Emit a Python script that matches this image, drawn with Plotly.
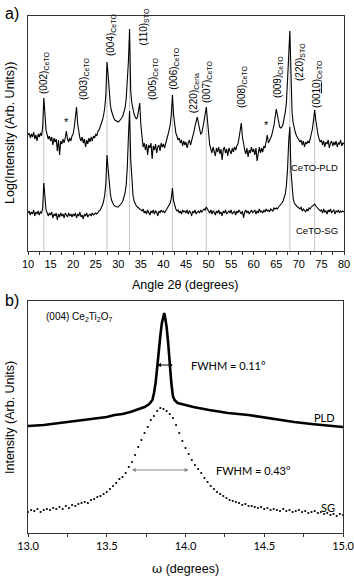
import numpy as np
import plotly.graph_objects as go

# ---- panel a: theta-2theta scans, heights in arbitrary log units, one value per 0.25 deg (10..80)
two_theta = np.linspace(10, 80, 281)

pld_scan = [
    116, 118, 113, 117, 114, 119, 112, 116, 110, 117, 114, 118, 115, 124, 153, 134, 121, 116, 112, 115,
    110, 114, 106, 113, 109, 112, 100, 111, 96, 110, 107, 112, 108, 113, 120, 112, 109, 113, 110, 115,
    117, 124, 136, 144, 127, 118, 113, 110, 114, 108, 112, 104, 111, 107, 113, 109, 114, 110, 115, 113,
    117, 115, 120, 121, 124, 127, 131, 136, 143, 156, 189, 176, 158, 146, 140, 136, 133, 131, 130, 129,
    129, 130, 131, 133, 135, 139, 143, 152, 168, 190, 222, 160, 148, 141, 137, 134, 132, 134, 140, 148,
    126, 112, 104, 108, 101, 107, 96, 106, 103, 108, 92, 105, 101, 107, 98, 104, 106, 100, 108, 104,
    107, 103, 109, 112, 116, 120, 126, 137, 156, 136, 123, 118, 115, 111, 113, 108, 111, 105, 110, 106,
    109, 103, 108, 111, 106, 110, 114, 119, 125, 131, 134, 128, 121, 117, 118, 123, 130, 137, 144, 131,
    114, 106, 102, 98, 104, 100, 95, 103, 99, 104, 97, 102, 91, 101, 104, 98, 102, 95, 103, 100,
    97, 103, 99, 104, 101, 105, 107, 113, 122, 128, 114, 106, 101, 97, 103, 94, 101, 98, 104, 99,
    102, 96, 103, 90, 100, 104, 98, 103, 99, 105, 103, 110, 116, 108, 110, 113, 116, 120, 126, 134,
    142, 136, 128, 124, 123, 124, 127, 132, 139, 149, 168, 195, 220, 160, 138, 128, 122, 118, 115, 113,
    112, 109, 111, 106, 110, 104, 109, 107, 110, 108, 112, 116, 122, 131, 141, 131, 121, 116, 112, 109,
    111, 106, 110, 104, 109, 107, 111, 103, 108, 110, 105, 109, 106, 110, 104, 108, 107, 111, 105, 108, 107,
]

sg_scan = [
    38, 40, 36, 39, 37, 41, 35, 39, 37, 40, 36, 39, 38, 43, 68, 50, 41, 38, 35, 38,
    36, 39, 33, 37, 35, 38, 31, 37, 34, 38, 35, 37, 33, 38, 36, 34, 38, 35, 37, 34,
    37, 35, 38, 33, 37, 35, 39, 34, 36, 32, 37, 35, 38, 34, 36, 37, 35, 38, 36, 37,
    38, 37, 39, 40, 41, 43, 46, 50, 56, 68, 96, 82, 66, 57, 51, 48, 46, 45, 44, 44,
    44, 45, 46, 48, 50, 53, 58, 66, 84, 115, 140, 92, 66, 56, 50, 47, 45, 44, 43, 42,
    41, 40, 42, 38, 40, 37, 41, 39, 36, 40, 38, 41, 37, 40, 39, 35, 40, 38, 41, 39,
    40, 38, 41, 42, 44, 46, 48, 53, 63, 50, 44, 42, 40, 41, 38, 40, 37, 41, 39, 40,
    38, 41, 37, 40, 39, 35, 40, 38, 41, 37, 39, 40, 38, 41, 39, 40, 42, 41, 44, 42,
    40, 38, 41, 37, 40, 39, 36, 40, 38, 41, 37, 39, 35, 40, 38, 41, 37, 39, 40, 38,
    41, 37, 39, 40, 36, 40, 38, 41, 39, 37, 40, 33, 39, 41, 38, 40, 37, 39, 41, 38,
    39, 41, 37, 40, 38, 42, 39, 40, 38, 41, 39, 42, 40, 41, 39, 42, 41, 40, 43, 42,
    43, 42, 44, 45, 46, 48, 50, 53, 57, 66, 82, 110, 124, 80, 60, 52, 48, 46, 45, 44,
    43, 42, 44, 40, 42, 41, 39, 42, 40, 43, 42, 44, 45, 46, 47, 45, 44, 43, 42, 40,
    41, 38, 42, 39, 40, 37, 41, 39, 42, 38, 40, 41, 37, 40, 39, 41, 38, 40, 39, 40, 39,
]

# reflections marked with a grey guide line (2theta)
guide_peaks = [13.5, 27.5, 32.5, 42.0, 49.5, 68.0, 73.5]

refl_labels = [
    "(002)<sub>CeTO</sub>", "(003)<sub>CeTO</sub>", "(004)<sub>CeTO</sub>", "(110)<sub>STO</sub>",
    "(005)<sub>CeTO</sub>", "(006)<sub>CeTO</sub>", "(220)<sub>Ceria</sub>", "(007)<sub>CeTO</sub>",
    "(008)<sub>CeTO</sub>", "(009)<sub>CeTO</sub>", "(220)<sub>STO</sub>", "(00<u>10</u>)<sub>CeTO</sub>",
]
refl_pos = [(13.54, 155), (22.4, 149), (28.4, 193), (35.7, 203), (37.7, 149), (42.3, 159),
            (46.8, 136), (49.65, 146), (57.4, 141), (65.4, 151), (70.25, 168), (74.0, 141)]
star_pos = [(18.5, 121), (62.9, 118)]

# ---- panel b: omega rocking curves of the (004) reflection
pld_omega = [13.00, 13.10, 13.20, 13.30, 13.40, 13.50, 13.55, 13.60, 13.65, 13.70, 13.74, 13.77,
             13.79, 13.80, 13.81, 13.82, 13.83, 13.84, 13.85, 13.86, 13.865, 13.87, 13.88, 13.89,
             13.90, 13.91, 13.92, 13.93, 13.95, 14.00, 14.05, 14.15, 14.27, 14.40, 14.48, 14.60,
             14.69, 14.80, 14.90, 15.00]
pld_rc = [107, 108, 110, 112, 114, 116, 118, 119, 121, 124, 126, 129,
          133, 140, 150, 165, 183, 197, 210, 219, 220, 216, 206, 190,
          166, 150, 137, 133, 130, 128, 126, 123, 120, 118, 116, 113,
          111, 109, 107.5, 106]

sg_rc = [
    21, 23, 22, 24, 21, 23, 24, 23, 25, 24, 26, 24, 27, 25, 28, 27, 29, 30, 31, 30,
    33, 34, 36, 37, 39, 41, 44, 47, 50, 54, 56, 60, 66, 71, 78, 86, 93, 100, 106, 113,
    117, 122, 125, 124, 122, 119, 115, 108, 100, 92, 85, 79, 73, 68, 64, 60, 55, 51, 47, 44,
    41, 39, 37, 35, 33, 32, 31, 30, 28, 29, 27, 27, 26, 25, 26, 24, 25, 23, 24, 23,
    22, 24, 22, 23, 21, 22, 23, 21, 22, 20, 21, 22, 20, 21, 19, 20, 18, 19, 17, 19, 18,
]
sg_omega = np.linspace(13, 15, len(sg_rc))

ARIAL = "Liberation Sans, Arial, sans-serif"
CALIBRI = "Lato, Liberation Sans, sans-serif"

fig = go.Figure()

gx, gy = [], []
for p in guide_peaks:
    top = pld_scan[int(round((p - 10) / 0.25))]
    gx += [p, p, None]
    gy += [0, top, None]
fig.add_trace(go.Scatter(x=gx, y=gy, mode="lines", line=dict(color="#c4c4c4", width=1),
                         hoverinfo="skip", xaxis="x", yaxis="y"))
fig.add_trace(go.Scatter(x=two_theta, y=sg_scan, mode="lines", name="CeTO-SG",
                         line=dict(color="black", width=1.1), xaxis="x", yaxis="y"))
fig.add_trace(go.Scatter(x=two_theta, y=pld_scan, mode="lines", name="CeTO-PLD",
                         line=dict(color="black", width=1.1), xaxis="x", yaxis="y"))

fig.add_trace(go.Scatter(x=pld_omega, y=pld_rc, mode="lines", name="PLD",
                         line=dict(color="black", width=2.6), xaxis="x2", yaxis="y2"))
fig.add_trace(go.Scatter(x=sg_omega, y=sg_rc, mode="markers", name="SG",
                         marker=dict(color="black", size=2.2), xaxis="x2", yaxis="y2"))

ann = []
for txt, (x, y) in zip(refl_labels, refl_pos):
    ann.append(dict(x=x, y=y, xref="x", yref="y", text=txt, textangle=-90, showarrow=False,
                    xanchor="center", yanchor="bottom", font=dict(family=ARIAL, size=10, color="black")))
for x, y in star_pos:
    ann.append(dict(x=x, y=y, xref="x", yref="y", text="*", showarrow=False,
                    xanchor="center", yanchor="bottom", font=dict(family=ARIAL, size=11, color="black")))
ann += [
    dict(x=79.2, y=84, xref="x", yref="y", text="CeTO-PLD", showarrow=False, xanchor="right",
         font=dict(family=ARIAL, size=9.5, color="black")),
    dict(x=79.2, y=21, xref="x", yref="y", text="CeTO-SG", showarrow=False, xanchor="right",
         font=dict(family=ARIAL, size=9.5, color="black")),
    dict(x=13.1, y=216, xref="x2", yref="y2", text="(004) Ce<sub>2</sub>Ti<sub>2</sub>O<sub>7</sub>",
         showarrow=False, xanchor="left", font=dict(family=ARIAL, size=10, color="black")),
    dict(x=13.92, y=168, ax=13.81, ay=168, xref="x2", yref="y2", axref="x2", ayref="y2", text="",
         showarrow=True, arrowhead=2, arrowside="end+start", arrowsize=0.8, arrowwidth=1,
         arrowcolor="black"),
    dict(x=14.02, y=168, xref="x2", yref="y2", text="FWHM = 0.11°", showarrow=False,
         xanchor="left", font=dict(family=CALIBRI, size=11, color="black")),
    dict(x=14.02, y=63, ax=13.65, ay=63, xref="x2", yref="y2", axref="x2", ayref="y2", text="",
         showarrow=True, arrowhead=2, arrowside="end+start", arrowsize=0.8, arrowwidth=1,
         arrowcolor="#888888"),
    dict(x=14.18, y=63, xref="x2", yref="y2", text="FWHM = 0.43°", showarrow=False,
         xanchor="left", font=dict(family=CALIBRI, size=11, color="black")),
    dict(x=14.96, y=116, xref="x2", yref="y2", text="PLD", showarrow=False, xanchor="right",
         font=dict(family=CALIBRI, size=11, color="black")),
    dict(x=14.96, y=26, xref="x2", yref="y2", text="SG", showarrow=False, xanchor="right",
         font=dict(family=CALIBRI, size=11, color="black")),
]
# axis titles and panel letters, placed on the page
for txt, px, py, angle, size in [
    ("Angle 2θ (degrees)", 185, 285, 0, 12.5),
    ("Log(Intensity (Arb. Units))", 10, 133, -90, 12.5),
    ("<span style='font-family:DejaVu Serif'>ω</span> (degrees)", 185, 568, 0, 12.5),
    ("Intensity (Arb. Units)", 10, 418, -90, 12.5),
    ("a)", 12, 13, 0, 16),
    ("b)", 12, 300, 0, 16),
]:
    ann.append(dict(x=px / 354, y=1 - py / 577, xref="paper", yref="paper", text=txt,
                    textangle=angle, showarrow=False, xanchor="center", yanchor="middle",
                    font=dict(family=ARIAL, size=size, color="black")))

frame = dict(showline=True, linecolor="#333333", linewidth=1, mirror=True, showgrid=False,
             zeroline=False, automargin=False)

fig.update_layout(
    template="none",
    width=354, height=577, margin=dict(l=0, r=0, t=0, b=0, pad=0),
    paper_bgcolor="white", plot_bgcolor="white", showlegend=False,
    annotations=ann,
    xaxis=dict(domain=[28 / 354, 344 / 354], range=[10, 80], tick0=10, dtick=5,
               ticks="outside", ticklen=3, tickcolor="#333333", ticklabeloverflow="allow",
               minor=dict(dtick=2.5, ticks="outside", ticklen=3, tickcolor="#333333"),
               tickfont=dict(family=ARIAL, size=11, color="black"), anchor="y", **frame),
    yaxis=dict(domain=[1 - 251 / 577, 1 - 16 / 577], range=[0, 235], showticklabels=False,
               ticks="", anchor="x", **frame),
    xaxis2=dict(domain=[28 / 354, 343 / 354], range=[13, 15], tick0=13, dtick=0.5,
                tickformat=".1f", ticks="outside", ticklen=3, tickcolor="#333333",
                ticklabeloverflow="allow",
                minor=dict(dtick=0.25, ticks="outside", ticklen=3, tickcolor="#333333"),
                tickfont=dict(family=CALIBRI, size=11, color="black"), anchor="y2", **frame),
    yaxis2=dict(domain=[1 - 533 / 577, 1 - 301 / 577], range=[0, 232], showticklabels=False,
                ticks="", anchor="x2", **frame),
)

# the page's default body margin would push the fixed-size figure off by 8px
fig.write_html("out.html", config={"displayModeBar": False},
               post_script="document.body.style.margin='0';document.body.style.overflow='hidden';")
